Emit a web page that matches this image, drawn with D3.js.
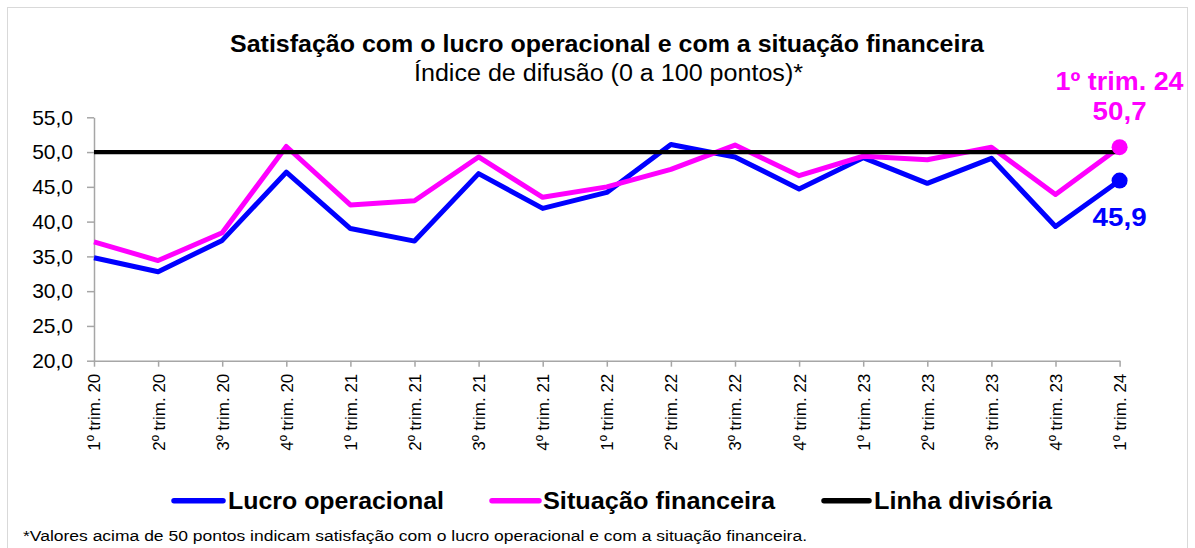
<!DOCTYPE html>
<html>
<head>
<meta charset="utf-8">
<script src="https://cdn.jsdelivr.net/npm/d3@7"></script>
<style>
  html, body { margin: 0; padding: 0; background: #fff; }
  svg { display: block; font-family: "Liberation Sans", Arial, sans-serif; }
</style>
</head>
<body>
<svg id="chart" width="1195" height="548"></svg>
<script>
const categories = ["1º trim. 20","2º trim. 20","3º trim. 20","4º trim. 20",
  "1º trim. 21","2º trim. 21","3º trim. 21","4º trim. 21",
  "1º trim. 22","2º trim. 22","3º trim. 22","4º trim. 22",
  "1º trim. 23","2º trim. 23","3º trim. 23","4º trim. 23","1º trim. 24"];
const lucroOperacional = [34.8, 32.8, 37.3, 47.1, 39.0, 37.2, 46.9, 41.9, 44.2, 51.1, 49.3, 44.7, 49.2, 45.5, 49.1, 39.3, 45.9];
const situacaoFinanceira = [37.1, 34.4, 38.4, 50.8, 42.4, 43.0, 49.3, 43.5, 45.0, 47.5, 51.0, 46.6, 49.4, 48.9, 50.7, 43.9, 50.7];
const linhaDivisoria = [50, 50, 50, 50, 50, 50, 50, 50, 50, 50, 50, 50, 50, 50, 50, 50, 50];
const yTicks = [20, 25, 30, 35, 40, 45, 50, 55];
const seriesNames = ["Lucro operacional", "Situação financeira", "Linha divisória"];
const title = "Satisfação com o lucro operacional e com a situação financeira";
const subtitle = "Índice de difusão (0 a 100 pontos)*";
const footnote = "*Valores acima de 50 pontos indicam satisfação com o lucro operacional e com a situação financeira.";
const lastLabel = "1º trim. 24";

const BLUE = "#0000FF", PINK = "#FF00FF", BLACK = "#000000", AXIS = "#A6A6A6";
const fmt = v => v.toFixed(1).replace(".", ",");

const svg = d3.select("#chart");

// outer border
svg.append("rect").attr("x", 7.5).attr("y", 7.5).attr("width", 1180).attr("height", 600)
  .attr("fill", "none").attr("stroke", "#D9D9D9").attr("stroke-width", 1);

const x = d3.scalePoint().domain(categories).range([94, 1119.6]);
const y = d3.scaleLinear().domain([20, 55]).range([360.7, 117.3]);

// Y axis
const yAxis = svg.append("g").attr("transform", "translate(94,0)")
  .call(d3.axisLeft(y).tickValues(yTicks).tickFormat(fmt).tickSize(7).tickSizeOuter(0).tickPadding(14));
yAxis.selectAll("path,line").attr("stroke", AXIS).attr("stroke-width", 1.5);
yAxis.selectAll("text").attr("font-size", 21).attr("fill", "#000")
  .attr("font-family", "'Liberation Sans', Arial, sans-serif");

// X axis
const xAxis = svg.append("g").attr("transform", `translate(0,${y(20)})`)
  .call(d3.axisBottom(x).tickSize(6).tickSizeOuter(0));
xAxis.selectAll("path,line").attr("stroke", AXIS).attr("stroke-width", 1.5);
xAxis.selectAll("text")
  .attr("font-size", 17).attr("fill", "#000")
  .attr("font-family", "'Liberation Sans', Arial, sans-serif")
  .attr("transform", "rotate(-90)")
  .attr("text-anchor", "end")
  .attr("x", -13).attr("y", 0).attr("dy", "0.35em");

// Lines
const line = d3.line().x((d, i) => x(categories[i])).y(d => y(d));
svg.append("path").datum(lucroOperacional).attr("d", line)
  .attr("fill", "none").attr("stroke", BLUE).attr("stroke-width", 5).attr("stroke-linejoin", "round");
svg.append("path").datum(situacaoFinanceira).attr("d", line)
  .attr("fill", "none").attr("stroke", PINK).attr("stroke-width", 5).attr("stroke-linejoin", "round");
svg.append("path").datum(linhaDivisoria).attr("d", line)
  .attr("fill", "none").attr("stroke", BLACK).attr("stroke-width", 4.3);

// End markers
const last = categories.length - 1;
svg.append("circle").attr("cx", x(categories[last])).attr("cy", y(lucroOperacional[last]))
  .attr("r", 8).attr("fill", BLUE);
svg.append("circle").attr("cx", x(categories[last])).attr("cy", y(situacaoFinanceira[last]))
  .attr("r", 8).attr("fill", PINK);

// Data labels
const lx = x(categories[last]);
svg.append("text").attr("x", lx).attr("y", 89.5).attr("text-anchor", "middle")
  .attr("font-size", 25).attr("font-weight", "bold").attr("fill", PINK)
  .attr("textLength", 128).attr("lengthAdjust", "spacingAndGlyphs").text(lastLabel);
svg.append("text").attr("x", lx).attr("y", 120).attr("text-anchor", "middle")
  .attr("font-size", 26).attr("font-weight", "bold").attr("fill", PINK)
  .attr("textLength", 54).attr("lengthAdjust", "spacingAndGlyphs").text(fmt(situacaoFinanceira[last]));
svg.append("text").attr("x", lx).attr("y", 225.7).attr("text-anchor", "middle")
  .attr("font-size", 26).attr("font-weight", "bold").attr("fill", BLUE)
  .attr("textLength", 54).attr("lengthAdjust", "spacingAndGlyphs").text(fmt(lucroOperacional[last]));

// Title / subtitle
svg.append("text").attr("x", 230).attr("y", 51.7)
  .attr("font-size", 23).attr("font-weight", "bold").attr("fill", "#000")
  .attr("textLength", 754).attr("lengthAdjust", "spacingAndGlyphs").text(title);
svg.append("text").attr("x", 414).attr("y", 81)
  .attr("font-size", 23).attr("fill", "#000")
  .attr("textLength", 389).attr("lengthAdjust", "spacingAndGlyphs").text(subtitle);

// Legend
const legend = [
  { name: seriesNames[0], color: BLUE, x1: 174, x2: 223, tx: 228, tw: 216 },
  { name: seriesNames[1], color: PINK, x1: 492, x2: 539, tx: 543, tw: 232 },
  { name: seriesNames[2], color: BLACK, x1: 824, x2: 869, tx: 874, tw: 178 }
];
const lg = svg.append("g");
legend.forEach(d => {
  lg.append("line").attr("x1", d.x1).attr("x2", d.x2).attr("y1", 500.7).attr("y2", 500.7)
    .attr("stroke", d.color).attr("stroke-width", 5.5).attr("stroke-linecap", "round");
  lg.append("text").attr("x", d.tx).attr("y", 509.3)
    .attr("font-size", 24.5).attr("font-weight", "bold").attr("fill", "#000")
    .attr("textLength", d.tw).attr("lengthAdjust", "spacingAndGlyphs").text(d.name);
});

// Footnote
svg.append("text").attr("x", 23).attr("y", 541)
  .attr("font-size", 15.5).attr("fill", "#000")
  .attr("textLength", 784).attr("lengthAdjust", "spacingAndGlyphs").text(footnote);
</script>
</body>
</html>
